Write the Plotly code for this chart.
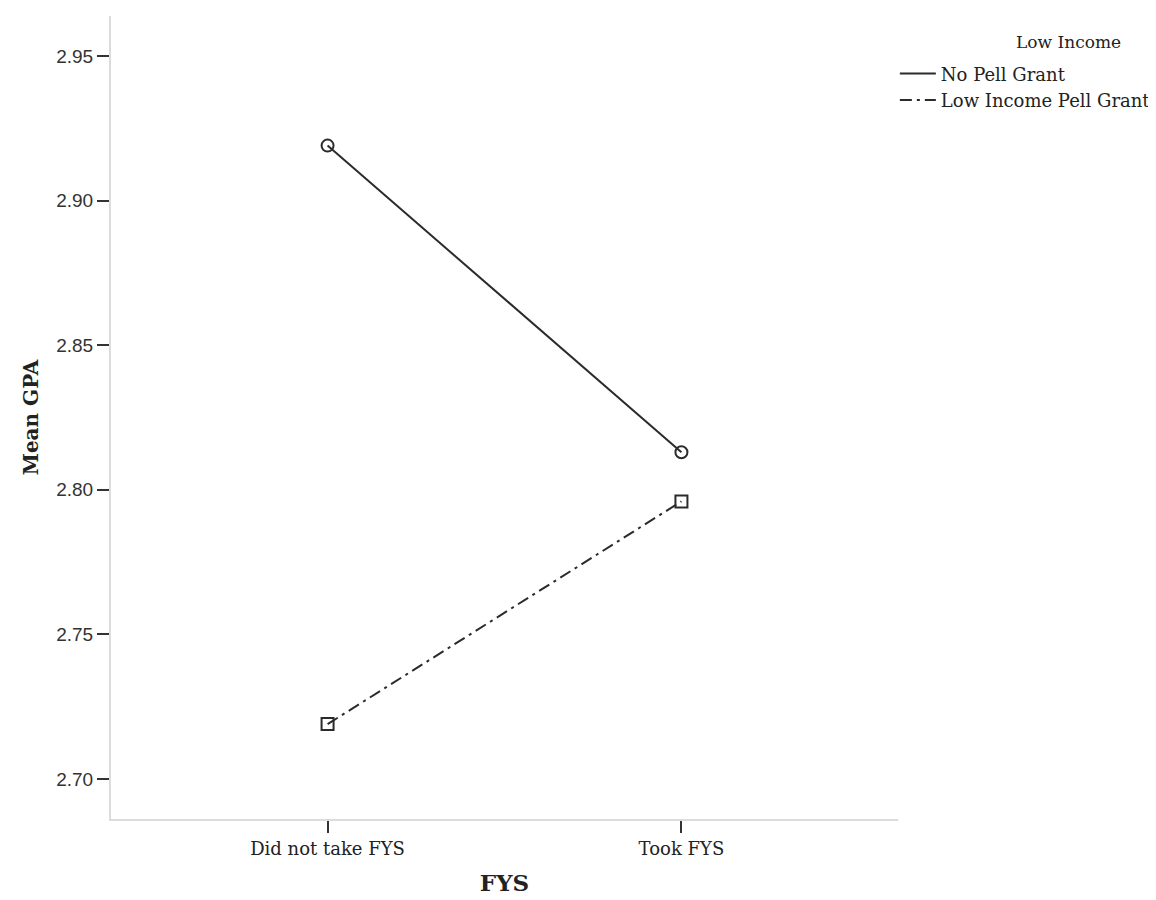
import plotly.graph_objects as go

categories = ["Did not take FYS", "Took FYS"]
no_pell = [2.919, 2.813]
pell = [2.719, 2.796]
series_names = ["No Pell Grant", "Low Income Pell Grant"]
legend_title = "Low Income"
y_ticks = [2.70, 2.75, 2.80, 2.85, 2.90, 2.95]

ink = "#2b2b2b"
fig = go.Figure()
for name, vals, dash, sym in [
    (series_names[0], no_pell, "solid", "circle-open"),
    (series_names[1], pell, "12px,5px,3px,5px", "square-open"),
]:
    fig.add_trace(go.Scatter(
        x=categories, y=vals, name=name, mode="lines", legendgroup=name,
        line=dict(color=ink, width=2, dash=dash),
    ))
    fig.add_trace(go.Scatter(
        x=categories, y=vals, name=name, mode="markers", legendgroup=name,
        showlegend=False,
        marker=dict(symbol=sym, size=12, color=ink, line=dict(width=2)),
    ))

serif = "DejaVu Serif"
fig.update_layout(
    width=1156, height=900,
    margin=dict(l=103, r=266, t=8, b=89),
    plot_bgcolor="white", paper_bgcolor="white",
    showlegend=True,
    legend=dict(
        x=0.996, y=0.951, xanchor="left", yanchor="top",
        font=dict(family=serif, size=18, color="#222"),
        itemwidth=36, tracegroupgap=0,
        bgcolor="rgba(0,0,0,0)",
    ),
    annotations=[dict(
        text=legend_title, xref="paper", yref="paper", x=1.2165, y=0.9676,
        xanchor="center", yanchor="middle", showarrow=False,
        font=dict(family=serif, size=17, color="#222"),
    )],
    xaxis=dict(
        type="category", range=[-0.612, 1.612],
        showline=True, linecolor="#dcdcdc", linewidth=2, mirror=False,
        ticks="outside", ticklen=12, tickcolor="#333", tickwidth=2,
        showgrid=False, zeroline=False,
        tickfont=dict(family=serif, size=18, color="#222"),
        title=dict(text="<b>FYS</b>", font=dict(family=serif, size=23, color="#222"), standoff=17),
    ),
    yaxis=dict(
        range=[2.6862, 2.9638], tickvals=y_ticks, tickformat=".2f",
        showline=True, linecolor="#dcdcdc", linewidth=2,
        ticks="outside", ticklen=12, tickcolor="#333", tickwidth=2,
        showgrid=False, zeroline=False,
        tickfont=dict(family="Liberation Sans", size=19, color="#333"),
        title=dict(text="<b>Mean GPA</b>", font=dict(family=serif, size=20, color="#222"), standoff=12),
    ),
)

fig.write_html("out.html")
